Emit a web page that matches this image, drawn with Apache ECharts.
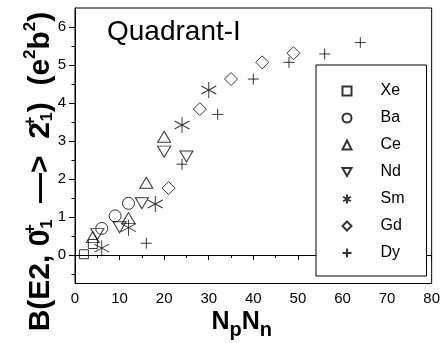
<!DOCTYPE html>
<html>
<head>
<meta charset="utf-8">
<script src="https://cdn.jsdelivr.net/npm/echarts@6/dist/echarts.min.js"></script>
<style>
  html, body { margin: 0; padding: 0; background: #fff; }
  #chart { width: 443px; height: 343px; }
</style>
</head>
<body>
<div id="chart"></div>
<script>
// NpNn (x) and B(E2) (y) for each nucleus
const xeX = [2, 4]
const xeY = [0.02, 0.29]
const baX = [6, 9, 12]
const baY = [0.70, 1.03, 1.36]
const ceX = [4, 12, 16, 20]
const ceY = [0.47, 0.97, 1.90, 3.11]
const ndX = [5, 10, 15, 20, 25]
const ndY = [0.55, 0.73, 1.36, 2.72, 2.59]
const smX = [6, 12, 18, 24, 30]
const smY = [0.18, 0.72, 1.34, 3.42, 4.34]
const gdX = [21, 28, 35, 42, 49]
const gdY = [1.76, 3.84, 4.63, 5.07, 5.31]
const dyX = [16, 24, 32, 40, 48, 56, 64]
const dyY = [0.31, 2.39, 3.70, 4.63, 5.07, 5.29, 5.59]

// tick values
const yMajor = [0, 1, 2, 3, 4, 5, 6]
const yMinor = [-0.5, 0.5, 1.5, 2.5, 3.5, 4.5, 5.5]

const font = 'Liberation Sans, Arial, sans-serif'

// hollow marker symbols
const downTriangle = 'path://M0,0L10,0L5,8.66Z'
const asterisk = 'path://M5,0L5,10M0.67,2.5L9.33,7.5M0.67,7.5L9.33,2.5'
const plus = 'path://M5,0L5,10M0,5L10,5'

function makeSeries(name, symbol, size, xs, ys) {
  return {
    name,
    type: 'scatter',
    symbol,
    symbolSize: size,
    data: xs.map((x, i) => [x, ys[i]]),
    itemStyle: {
      color: 'transparent',
      borderColor: '#000',
      borderWidth: 1
    },
    emphasis: { disabled: true }
  }
}

const chart = echarts.init(document.getElementById('chart'))

chart.setOption({
  animation: false,
  grid: {
    left: 75,
    right: 10.5,
    top: 8,
    bottom: 59.5,
    show: true,
    borderColor: '#000',
    borderWidth: 1
  },
  xAxis: {
    type: 'value',
    min: 0,
    max: 80,
    interval: 10,
    axisLine: { show: true, lineStyle: { color: '#000', width: 1 } },
    axisTick: { show: true, length: 5, lineStyle: { color: '#000' } },
    minorTick: { show: true, splitNumber: 2, length: 3, lineStyle: { color: '#000' } },
    axisLabel: { color: '#000', fontSize: 15, fontFamily: font, margin: 8 },
    splitLine: { show: false }
  },
  yAxis: [
    {
      type: 'value',
      position: 'left',
      min: -0.75,
      max: 6.5,
      axisLine: { show: true, lineStyle: { color: '#000', width: 1 } },
      axisTick: { show: true, length: 6, customValues: yMajor, lineStyle: { color: '#000' } },
      axisLabel: { customValues: yMajor, color: '#000', fontSize: 15, fontFamily: font, margin: 9 },
      splitLine: { show: false }
    },
    {
      // only the short half-unit ticks
      type: 'value',
      position: 'left',
      min: -0.75,
      max: 6.5,
      axisLine: { show: false },
      axisTick: { show: true, length: 3.5, customValues: yMinor, lineStyle: { color: '#000' } },
      axisLabel: { show: false },
      splitLine: { show: false }
    }
  ],
  legend: {
    orient: 'vertical',
    left: 316,
    top: 65,
    padding: [18, 16, 15, 25.5],
    itemWidth: 9,
    itemHeight: 9,
    itemGap: 11,
    selectedMode: false,
    borderColor: '#000',
    borderWidth: 1,
    borderRadius: 0,
    backgroundColor: '#fff',
    textStyle: { color: '#000', fontSize: 16, lineHeight: 16, width: 30, padding: [0, 0, 0, 24], fontFamily: font }
  },
  graphic: [
    {
      type: 'text',
      x: 107,
      y: 32,
      style: { text: 'Quadrant-I', fill: '#000', font: '28px ' + font, verticalAlign: 'middle' }
    },
    {
      type: 'text',
      x: 39,
      y: 171.5,
      rotation: Math.PI / 2,
      style: {
        text: '{m|B(E2, 0}{p|+}{s|1}{m|  —>  2}{p|+}{s|1}{m|)  (e}{q|2}{m|b}{q|2}{m|)}',
        align: 'center',
        verticalAlign: 'middle',
        fill: '#000',
        rich: {
          m: { fontSize: 30, fontWeight: 'bold', fontFamily: font, lineHeight: 34, verticalAlign: 'bottom' },
          p: { fontSize: 17, fontWeight: 'bold', fontFamily: font, lineHeight: 17, verticalAlign: 'top', width: 1 },
          s: { fontSize: 16, fontWeight: 'bold', fontFamily: font, lineHeight: 16, verticalAlign: 'bottom' },
          q: { fontSize: 17, fontWeight: 'bold', fontFamily: font, lineHeight: 17, verticalAlign: 'top' }
        }
      }
    },
    {
      type: 'text',
      x: 241.7,
      y: 325,
      style: {
        text: '{m|N}{s|p}{m|N}{s|n}',
        align: 'center',
        verticalAlign: 'middle',
        fill: '#000',
        rich: {
          m: { fontSize: 25, fontWeight: 'bold', fontFamily: font, lineHeight: 30, verticalAlign: 'top' },
          s: { fontSize: 20, fontWeight: 'bold', fontFamily: font, lineHeight: 20, verticalAlign: 'bottom', padding: [17, 0, 0, 0] }
        }
      }
    }
  ],
  series: [
    makeSeries('Xe', 'rect', 9, xeX, xeY),
    makeSeries('Ba', 'circle', 12, baX, baY),
    makeSeries('Ce', 'triangle', [13, 11], ceX, ceY),
    makeSeries('Nd', downTriangle, [13, 11], ndX, ndY),
    makeSeries('Sm', asterisk, [15, 16], smX, smY),
    makeSeries('Gd', 'diamond', 13, gdX, gdY),
    makeSeries('Dy', plus, 11, dyX, dyY)
  ]
})
</script>
</body>
</html>
